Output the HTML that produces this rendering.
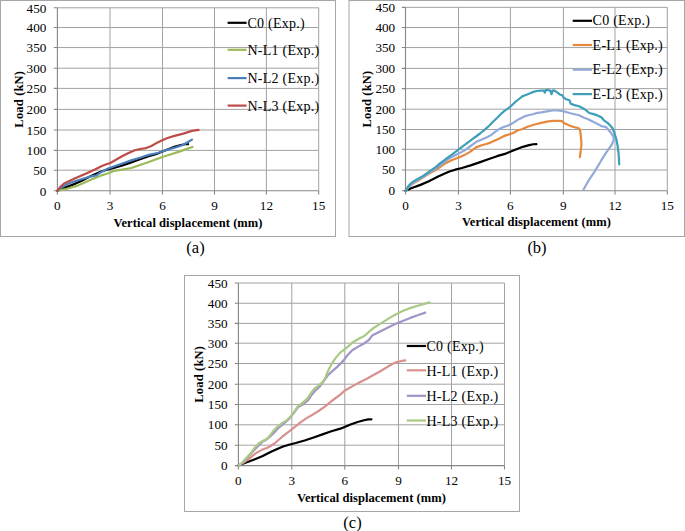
<!DOCTYPE html><html><head><meta charset="utf-8"><style>html,body{margin:0;padding:0;background:#fff;overflow:hidden;width:685px;height:531px;}svg{display:block;}text{font-family:"Liberation Serif",serif;fill:#000;}.b{font-weight:bold;}</style></head><body>
<svg width="685" height="531" viewBox="0 0 685 531">
<rect x="0" y="0" width="685" height="531" fill="#fff"/>
<rect x="0.5" y="0.5" width="335" height="236" fill="#fff" stroke="#a6a6a6" stroke-width="1"/>
<path d="M57.4 170.2H318.7M57.4 150.4H318.7M57.4 130H318.7M57.4 109.4H318.7M57.4 88.4H318.7M57.4 68.2H318.7M57.4 47.55H318.7M57.4 27.5H318.7M57.4 7.8H318.7M110 7.8V190.7M162.5 7.8V190.7M214.5 7.8V190.7M266.4 7.8V190.7M318.7 7.8V190.7" stroke="#a2a2a2" stroke-width="1" fill="none"/>
<path d="M57.4 7.8V190.7H318.7M53.8 190.7H57.4M53.8 170.2H57.4M53.8 150.4H57.4M53.8 130H57.4M53.8 109.4H57.4M53.8 88.4H57.4M53.8 68.2H57.4M53.8 47.55H57.4M53.8 27.5H57.4M53.8 7.8H57.4M57.4 190.7V194.5M110 190.7V194.5M162.5 190.7V194.5M214.5 190.7V194.5M266.4 190.7V194.5M318.7 190.7V194.5" stroke="#868686" stroke-width="1.1" fill="none"/>
<text x="46.4" y="195.6" font-size="13.2" text-anchor="end">0</text>
<text x="46.4" y="175.1" font-size="13.2" text-anchor="end">50</text>
<text x="46.4" y="155.3" font-size="13.2" text-anchor="end">100</text>
<text x="46.4" y="134.9" font-size="13.2" text-anchor="end">150</text>
<text x="46.4" y="114.3" font-size="13.2" text-anchor="end">200</text>
<text x="46.4" y="93.3" font-size="13.2" text-anchor="end">250</text>
<text x="46.4" y="73.1" font-size="13.2" text-anchor="end">300</text>
<text x="46.4" y="52.45" font-size="13.2" text-anchor="end">350</text>
<text x="46.4" y="32.4" font-size="13.2" text-anchor="end">400</text>
<text x="46.4" y="12.7" font-size="13.2" text-anchor="end">450</text>
<text x="57.4" y="210.3" font-size="13.2" text-anchor="middle">0</text>
<text x="110" y="210.3" font-size="13.2" text-anchor="middle">3</text>
<text x="162.5" y="210.3" font-size="13.2" text-anchor="middle">6</text>
<text x="214.5" y="210.3" font-size="13.2" text-anchor="middle">9</text>
<text x="266.4" y="210.3" font-size="13.2" text-anchor="middle">12</text>
<text x="318.7" y="210.3" font-size="13.2" text-anchor="middle">15</text>
<text class="b" x="188.05" y="226.9" font-size="12.5" letter-spacing="0.06" text-anchor="middle">Vertical displacement (mm)</text>
<text class="b" transform="translate(22.8,99.25) rotate(-90)" x="0" y="0" font-size="12.5" letter-spacing="0.17" text-anchor="middle">Load (kN)</text>
<polyline points="57.4,190.7 63.67,188.01 72.38,184.87 81.27,180.95 89.98,176.54 96.07,173.73 101.3,171.52 107.05,169.69 113.67,168.02 122.38,165.4 131.26,162.38 139.97,159.28 148.68,156.18 157.56,153.57 167.49,149.45 174.46,146.84 180.73,145.13 184.91,144.23 188.05,144.19" fill="none" stroke="#000000" stroke-width="2.2" stroke-linejoin="round" stroke-linecap="round"/>
<polyline points="58.5,190.6 68.1,188.5 76.9,185.9 85.7,182 94.4,178.2 101.4,175.4 107.6,173.5 113.8,170.9 122.5,169.6 131.3,168 140,165 148.8,162 157.6,158.8 163.1,156.8 171.9,154 180.7,151.1 186.8,148.9 192.5,147" fill="none" stroke="#9bbb59" stroke-width="2.2" stroke-linejoin="round" stroke-linecap="round"/>
<polyline points="57.5,190.6 61.1,187.7 66.4,184.6 72.5,182 81.3,179.3 90,176.7 96.2,175.4 101.4,171.9 107.6,168.8 113.8,166.5 122.5,163.5 131.3,160.4 140,157.7 148.8,154.9 157.6,153 167.5,149.8 176.3,147.2 183.3,144.8 187.7,142.2 192,139.6" fill="none" stroke="#4a7ebb" stroke-width="2.2" stroke-linejoin="round" stroke-linecap="round"/>
<polyline points="57.5,190.6 60.3,186.8 63.8,183.7 68.1,181.4 76.9,177.6 85.7,173.8 94.4,169.7 101.4,166.2 105,164.8 110.3,163 116.4,159.5 122.5,156 128.6,153 134.8,150.3 140,149 146.2,148.1 151.4,146 157.6,142.4 162.3,140.3 167.5,138 174.5,135.9 183.3,133.6 192,130.9 198.6,129.9" fill="none" stroke="#be4b48" stroke-width="2.2" stroke-linejoin="round" stroke-linecap="round"/>
<path d="M227.6 22.8H246.6" stroke="#000000" stroke-width="2.2"/>
<text x="247.5" y="27.6" font-size="14" letter-spacing="0.25">C0 (Exp.)</text>
<path d="M227.6 49.8H246.6" stroke="#9bbb59" stroke-width="2.2"/>
<text x="247.5" y="55.3" font-size="14" letter-spacing="0.25">N-L1 (Exp.)</text>
<path d="M227.6 78.1H246.6" stroke="#4a7ebb" stroke-width="2.2"/>
<text x="247.5" y="82.9" font-size="14" letter-spacing="0.25">N-L2 (Exp.)</text>
<path d="M227.6 105.6H246.6" stroke="#be4b48" stroke-width="2.2"/>
<text x="247.5" y="110.6" font-size="14" letter-spacing="0.25">N-L3 (Exp.)</text>
<text x="195.5" y="252.5" font-size="16.5" text-anchor="middle">(a)</text>
<rect x="349" y="0.5" width="335.5" height="236" fill="#fff" stroke="#a6a6a6" stroke-width="1"/>
<path d="M405.5 170H667.3M405.5 149.3H667.3M405.5 129.5H667.3M405.5 109.2H667.3M405.5 88.6H667.3M405.5 68.4H667.3M405.5 47.55H667.3M405.5 27.5H667.3M405.5 7.35H667.3M458.5 7.35V190.7M510.4 7.35V190.7M563.4 7.35V190.7M615 7.35V190.7M667.3 7.35V190.7" stroke="#a2a2a2" stroke-width="1" fill="none"/>
<path d="M405.5 7.35V190.7H667.3M401.9 190.7H405.5M401.9 170H405.5M401.9 149.3H405.5M401.9 129.5H405.5M401.9 109.2H405.5M401.9 88.6H405.5M401.9 68.4H405.5M401.9 47.55H405.5M401.9 27.5H405.5M401.9 7.35H405.5M405.5 190.7V194.5M458.5 190.7V194.5M510.4 190.7V194.5M563.4 190.7V194.5M615 190.7V194.5M667.3 190.7V194.5" stroke="#868686" stroke-width="1.1" fill="none"/>
<text x="395.2" y="195.1" font-size="13.2" text-anchor="end">0</text>
<text x="395.2" y="174.4" font-size="13.2" text-anchor="end">50</text>
<text x="395.2" y="153.7" font-size="13.2" text-anchor="end">100</text>
<text x="395.2" y="133.9" font-size="13.2" text-anchor="end">150</text>
<text x="395.2" y="113.6" font-size="13.2" text-anchor="end">200</text>
<text x="395.2" y="93" font-size="13.2" text-anchor="end">250</text>
<text x="395.2" y="72.8" font-size="13.2" text-anchor="end">300</text>
<text x="395.2" y="51.95" font-size="13.2" text-anchor="end">350</text>
<text x="395.2" y="31.9" font-size="13.2" text-anchor="end">400</text>
<text x="395.2" y="11.75" font-size="13.2" text-anchor="end">450</text>
<text x="405.5" y="210.3" font-size="13.2" text-anchor="middle">0</text>
<text x="458.5" y="210.3" font-size="13.2" text-anchor="middle">3</text>
<text x="510.4" y="210.3" font-size="13.2" text-anchor="middle">6</text>
<text x="563.4" y="210.3" font-size="13.2" text-anchor="middle">9</text>
<text x="615" y="210.3" font-size="13.2" text-anchor="middle">12</text>
<text x="667.3" y="210.3" font-size="13.2" text-anchor="middle">15</text>
<text class="b" x="536.4" y="226.1" font-size="12.5" letter-spacing="0.06" text-anchor="middle">Vertical displacement (mm)</text>
<text class="b" transform="translate(370.9,99.02) rotate(-90)" x="0" y="0" font-size="12.5" letter-spacing="0.17" text-anchor="middle">Load (kN)</text>
<polyline points="405.5,190.7 411.78,188.01 420.51,184.87 429.41,180.95 438.14,176.54 444.25,173.73 449.48,171.52 455.24,169.69 461.87,168.02 470.6,165.4 479.5,162.38 488.23,159.28 496.96,156.18 505.86,153.57 515.81,149.45 522.79,146.84 529.07,145.13 533.26,144.23 536.4,144.19" fill="none" stroke="#000000" stroke-width="2.2" stroke-linejoin="round" stroke-linecap="round"/>
<polyline points="406,190.5 408.5,187.3 411.1,184.8 415.1,182.2 419,180 423.2,177.4 427,174.9 431.3,172.2 436,169.9 440,167 444.1,164 448,162 452.2,160 458.7,157.5 464.3,155.1 470,151.9 476,147.4 481.8,145.2 487,143.7 490.5,142.6 497.7,139.3 505.3,135.6 512.7,133.3 518,130.2 522,129.3 527.5,126.8 535.5,124.2 541.3,122.9 546.9,121.6 552.6,120.9 558.2,120.9 562.2,121.2 563.9,122.9 567.3,124.6 570.7,126.1 575,127.3 578.3,128 580,129.5 580.6,134 581.2,139.6 581.5,145.2 580.7,150.8 579.9,157.1" fill="none" stroke="#e6883c" stroke-width="2.2" stroke-linejoin="round" stroke-linecap="round"/>
<polyline points="406,190.5 408.5,187.2 411.1,184.4 415.1,181.6 419,179.4 423.2,176.8 427,174 431.3,171 436,168.5 440,165.1 444.1,162 448,159.2 452.2,156.7 458.7,153.5 464.3,150.6 470,146.5 476,142.1 481.8,139.6 487,137.2 491.3,135 495,131.8 498.8,129.3 503,127.3 508.2,125.5 512.7,123.2 517.7,119.8 521,118.2 525.2,116.1 528.5,115.2 532.7,114.2 536,113.2 541.3,112.4 546.9,111.4 552.6,110.5 558.2,110.5 563.9,111.4 569.5,113 574.5,114.2 579,115.3 583.6,117.5 588.1,119.2 592.6,121.5 597.1,123.7 601.6,126.2 606.2,127.1 608.4,129.9 611.2,133.3 613.5,136.7 613.6,140.5 611.6,145 606.3,152.4 601.1,160.7 594.9,171.1 588.7,180.4 583.5,189.5" fill="none" stroke="#93a9d7" stroke-width="2.2" stroke-linejoin="round" stroke-linecap="round"/>
<polyline points="406,190.5 408,186.5 411.1,183.2 415.1,180.4 419,178.3 423.2,175.9 427,173.2 431.3,170.2 436,166.8 440,163.4 444.1,160.4 448,157.3 452.2,154.3 458.7,149.4 463,146.2 468.4,142.1 472,139.3 476,136.5 480,133.5 484.5,129.8 489.4,125.5 493,121.8 497,118 500.7,114.2 504.5,110.9 509.2,107.6 512.7,104.5 515.8,101.5 519,99 522.4,96.3 527.1,94.4 530,93.2 533.4,91.9 536.8,91 541.3,90.5 544.1,90.7 544.7,92.7 545.8,90.2 548.6,89.9 550.3,90.7 551.5,94.1 552.6,90.7 554.3,90.4 557.1,92.4 559.9,94.5 562.2,95.3 563.9,97.9 566.2,99.2 569.5,100.3 570.7,103.7 574.5,105.1 579,106.2 582.4,107.9 585.8,110.2 589.2,113 593.7,114.1 598.2,115.8 601.6,117.5 603.9,120.3 607.3,122.6 610.7,126 612.9,128.8 614.6,133.9 616.3,139 617.5,145.2 618.4,152 618.9,157.6 619.2,164.4" fill="none" stroke="#3d9eb7" stroke-width="2.2" stroke-linejoin="round" stroke-linecap="round"/>
<path d="M572.7 20.8H592" stroke="#000000" stroke-width="2.2"/>
<text x="592.6" y="25.2" font-size="14" letter-spacing="0.25">C0 (Exp.)</text>
<path d="M572.7 45H592" stroke="#e6883c" stroke-width="2.2"/>
<text x="592.6" y="49.6" font-size="14" letter-spacing="0.25">E-L1 (Exp.)</text>
<path d="M572.7 69.7H592" stroke="#93a9d7" stroke-width="2.2"/>
<text x="592.6" y="74.2" font-size="14" letter-spacing="0.25">E-L2 (Exp.)</text>
<path d="M572.7 94.1H592" stroke="#3d9eb7" stroke-width="2.2"/>
<text x="592.6" y="99" font-size="14" letter-spacing="0.25">E-L3 (Exp.)</text>
<text x="537" y="252.5" font-size="16.5" text-anchor="middle">(b)</text>
<rect x="184.5" y="275.5" width="335" height="236" fill="#fff" stroke="#a6a6a6" stroke-width="1"/>
<path d="M238.4 445.2H504.5M238.4 424.8H504.5M238.4 404.5H504.5M238.4 384.2H504.5M238.4 363.5H504.5M238.4 343.2H504.5M238.4 323.4H504.5M238.4 303.25H504.5M238.4 283H504.5M291.8 283V465.6M344.8 283V465.6M398.5 283V465.6M451.5 283V465.6M504.5 283V465.6" stroke="#a2a2a2" stroke-width="1" fill="none"/>
<path d="M238.4 283V465.6H504.5M234.8 465.6H238.4M234.8 445.2H238.4M234.8 424.8H238.4M234.8 404.5H238.4M234.8 384.2H238.4M234.8 363.5H238.4M234.8 343.2H238.4M234.8 323.4H238.4M234.8 303.25H238.4M234.8 283H238.4M238.4 465.6V469.4M291.8 465.6V469.4M344.8 465.6V469.4M398.5 465.6V469.4M451.5 465.6V469.4M504.5 465.6V469.4" stroke="#868686" stroke-width="1.1" fill="none"/>
<text x="227.6" y="470.2" font-size="13.2" text-anchor="end">0</text>
<text x="227.6" y="449.8" font-size="13.2" text-anchor="end">50</text>
<text x="227.6" y="429.4" font-size="13.2" text-anchor="end">100</text>
<text x="227.6" y="409.1" font-size="13.2" text-anchor="end">150</text>
<text x="227.6" y="388.8" font-size="13.2" text-anchor="end">200</text>
<text x="227.6" y="368.1" font-size="13.2" text-anchor="end">250</text>
<text x="227.6" y="347.8" font-size="13.2" text-anchor="end">300</text>
<text x="227.6" y="328" font-size="13.2" text-anchor="end">350</text>
<text x="227.6" y="307.85" font-size="13.2" text-anchor="end">400</text>
<text x="227.6" y="287.6" font-size="13.2" text-anchor="end">450</text>
<text x="238.4" y="485.2" font-size="13.2" text-anchor="middle">0</text>
<text x="291.8" y="485.2" font-size="13.2" text-anchor="middle">3</text>
<text x="344.8" y="485.2" font-size="13.2" text-anchor="middle">6</text>
<text x="398.5" y="485.2" font-size="13.2" text-anchor="middle">9</text>
<text x="451.5" y="485.2" font-size="13.2" text-anchor="middle">12</text>
<text x="504.5" y="485.2" font-size="13.2" text-anchor="middle">15</text>
<text class="b" x="371.45" y="501.9" font-size="12.5" letter-spacing="0.06" text-anchor="middle">Vertical displacement (mm)</text>
<text class="b" transform="translate(202.9,374.3) rotate(-90)" x="0" y="0" font-size="12.5" letter-spacing="0.17" text-anchor="middle">Load (kN)</text>
<polyline points="238.4,465.6 244.79,462.92 253.66,459.8 262.7,455.9 271.57,451.52 277.78,448.72 283.1,446.52 288.96,444.7 295.7,443.03 304.57,440.44 313.62,437.43 322.49,434.35 331.36,431.26 340.41,428.67 350.52,424.57 357.61,421.97 364,420.26 368.26,419.37 371.45,419.33" fill="none" stroke="#000000" stroke-width="2.2" stroke-linejoin="round" stroke-linecap="round"/>
<polyline points="238.8,465.6 245.5,461.4 250.8,457.4 256.1,453 261.4,450.1 268,447.5 274.5,443.5 277.9,440.5 283.6,435.6 289.2,431.4 294.9,426.9 300.5,422.4 306.2,418.4 312.9,414.5 318.5,411 324.5,406.8 330,402.3 335,398.5 340,394.8 345.3,390.2 353.2,385.9 359.8,382.3 366.4,379 373,375.3 379.5,371.8 386.1,367.8 392.7,363.8 396.7,362.1 400.6,361.2 405.3,360.3" fill="none" stroke="#d9918f" stroke-width="2.2" stroke-linejoin="round" stroke-linecap="round"/>
<polyline points="238.8,465.6 242.9,462.5 246.9,458 250.8,454 254.8,449.4 258.7,445.5 262.7,441.5 266.6,439.5 270.6,436.2 274.5,432.3 278.5,427.8 282.5,424.6 286.4,421.5 290.9,416.7 294.5,412 298.2,407.1 303.9,403.7 308.4,399.8 311.8,394.7 315.2,390.7 319.7,386.6 324.5,380 328,375 331.2,372.2 337.2,366.9 343.2,360.9 347.7,354.9 352.2,350.3 358.3,346.6 364.5,343.2 368.8,340 372.5,335.2 377.1,332.9 383.1,329.9 389.1,326.9 395.1,323.9 402.7,320.9 410.2,317.9 417.7,315.3 425.3,312.6" fill="none" stroke="#a194c6" stroke-width="2.2" stroke-linejoin="round" stroke-linecap="round"/>
<polyline points="238.8,465.6 242.9,462 246.9,457.3 250.8,453.4 254.8,447.5 258.7,443.5 262.7,440.9 266.6,438.9 270,435.4 273.4,430.8 277.9,426.3 282.4,422.9 287,420.1 290.9,416.2 294.3,411.6 298.2,406 302.8,402.6 307.3,398.6 310.7,393.6 314.1,389 318.6,385.6 323.1,381.7 325.9,376.7 327.4,372.2 331.2,364.7 335.7,357.9 340.2,352.6 346.2,348.1 352.2,342.8 358.3,339 364.3,336 369.5,331.4 374,327.7 380.1,323.9 386.1,320.1 392.1,316.4 396.6,314.1 402.7,311.1 410.2,308.1 417.7,305.8 425.3,303.6 429.5,302.4" fill="none" stroke="#a9c985" stroke-width="2.2" stroke-linejoin="round" stroke-linecap="round"/>
<path d="M406.8 346H426" stroke="#000000" stroke-width="2.2"/>
<text x="426.5" y="350.9" font-size="14" letter-spacing="0.25">C0 (Exp.)</text>
<path d="M406.8 370.3H426" stroke="#d9918f" stroke-width="2.2"/>
<text x="426.5" y="375.8" font-size="14" letter-spacing="0.25">H-L1 (Exp.)</text>
<path d="M406.8 395.8H426" stroke="#a194c6" stroke-width="2.2"/>
<text x="426.5" y="401.1" font-size="14" letter-spacing="0.25">H-L2 (Exp.)</text>
<path d="M406.8 420.5H426" stroke="#a9c985" stroke-width="2.2"/>
<text x="426.5" y="425.8" font-size="14" letter-spacing="0.25">H-L3 (Exp.)</text>
<text x="352.5" y="528" font-size="16.5" text-anchor="middle">(c)</text>
</svg></body></html>
